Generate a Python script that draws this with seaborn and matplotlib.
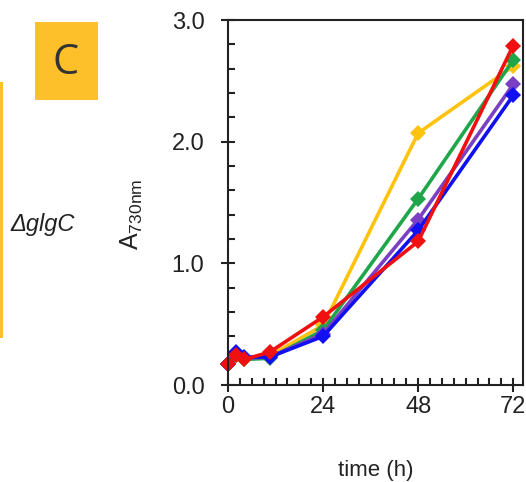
import numpy as np
import pandas as pd
import seaborn as sns
import matplotlib.pyplot as plt
from matplotlib.patches import FancyBboxPatch, Rectangle
from matplotlib.ticker import MultipleLocator

# sampling times (h)
time_h = [0, 2, 4, 10.5, 24, 48, 72]

# A730nm for each culture (named by line colour)
yellow = [0.17, 0.25, 0.21, 0.24, 0.49, 2.07, 2.62]
green = [0.17, 0.25, 0.21, 0.22, 0.45, 1.53, 2.67]
purple = [0.17, 0.26, 0.22, 0.23, 0.42, 1.36, 2.47]
blue = [0.17, 0.27, 0.23, 0.23, 0.40, 1.27, 2.38]
red = [0.17, 0.25, 0.21, 0.27, 0.56, 1.18, 2.79]

series = {"yellow": yellow, "green": green, "purple": purple, "blue": blue, "red": red}
colors = {"yellow": "#FFC20E", "green": "#1FA64A", "purple": "#7B3FC4",
          "blue": "#1010F0", "red": "#F01010"}

rows = []
for name, vals in series.items():
    for t, v in zip(time_h, vals):
        rows.append({"time": t, "A730": v, "strain": name})
df = pd.DataFrame(rows)

sns.set_style("ticks")
plt.rcParams['font.family'] = ['Liberation Sans', 'DejaVu Sans']
plt.rcParams['mathtext.fontset'] = 'custom'
plt.rcParams['mathtext.rm'] = 'Liberation Sans'
plt.rcParams['mathtext.it'] = 'Liberation Sans:italic'

fig = plt.figure(figsize=(5.26, 4.82), dpi=100)
ax = fig.add_axes([0.4335, 0.2012, 0.561, 0.7573])

sns.lineplot(data=df, x="time", y="A730", hue="strain", hue_order=list(series.keys()),
             palette=colors, marker="D", markersize=8, markeredgewidth=0,
             linewidth=2.6, legend=False, ax=ax, sort=False, clip_on=False)

ax.set_xlim(0, 74.5)
ax.set_ylim(0, 3.0)
ax.set_xticks([0, 24, 48, 72])
ax.set_yticks([0, 1, 2, 3])
ax.set_yticklabels(["0.0", "1.0", "2.0", "3.0"])
ax.xaxis.set_minor_locator(MultipleLocator(3))
ax.yaxis.set_minor_locator(MultipleLocator(0.2))
ax.tick_params(which="major", direction="inout", length=10, width=1.5,
               labelsize=17, colors="#222222", pad=3)
ax.tick_params(which="minor", direction="in", length=5, width=1.5, colors="#222222")
ax.tick_params(axis="y", which="major", pad=12)
for s in ax.spines.values():
    s.set_linewidth(1.5)
    s.set_color("#222222")

ax.set_xlabel("time (h)", fontsize=16, labelpad=30, color="#222222")
ax.set_ylabel("")
fig.text(132 / 526, 1 - 214 / 482, r"A$_{730\mathrm{nm}}$", rotation=90,
         ha="center", va="center", fontsize=18, color="#222222")

# panel label box
fig.patches.append(FancyBboxPatch((35 / 526, 1 - 100 / 482), 63 / 526, 78 / 482,
                                  boxstyle="square,pad=0", transform=fig.transFigure,
                                  facecolor="#FDC02A", edgecolor="none"))
fig.text(66 / 526, 1 - 63 / 482, "C", ha="center", va="center", fontsize=30,
         color="#333333", family="Open Sans")
fig.patches.append(Rectangle((0, 1 - 338 / 482), 3 / 526, 256 / 482,
                             transform=fig.transFigure, facecolor="#FDC02A",
                             edgecolor="none"))
fig.text(10 / 526, 1 - 224 / 482, "ΔglgC", ha="left", va="center", fontsize=17,
         style="italic", color="#222222")

fig.savefig("out.png", dpi=100)
